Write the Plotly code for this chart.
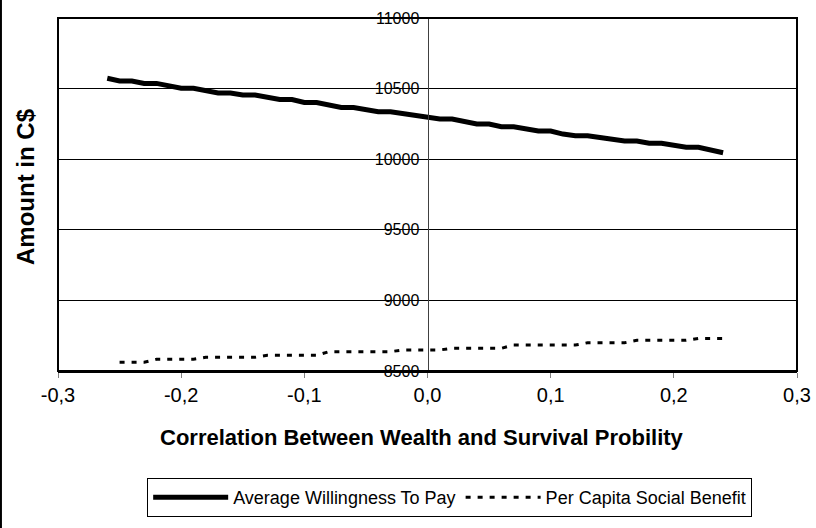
import plotly.graph_objects as go

# ---- data ----
x_wtp = [-0.26, -0.25, -0.24, -0.23, -0.22, -0.21, -0.20, -0.19, -0.18, -0.17,
         -0.16, -0.15, -0.14, -0.13, -0.12, -0.11, -0.10, -0.09, -0.08, -0.07,
         -0.06, -0.05, -0.04, -0.03, -0.02, -0.01, 0.00, 0.01, 0.02, 0.03,
         0.04, 0.05, 0.06, 0.07, 0.08, 0.09, 0.10, 0.11, 0.12, 0.13,
         0.14, 0.15, 0.16, 0.17, 0.18, 0.19, 0.20, 0.21, 0.22, 0.23, 0.24]
wtp = [10573, 10554, 10554, 10537, 10537, 10518, 10502, 10502, 10483, 10469,
       10469, 10455, 10455, 10437, 10423, 10423, 10402, 10402, 10384, 10366,
       10366, 10348, 10336, 10336, 10325, 10309, 10297, 10285, 10285, 10267,
       10249, 10249, 10230, 10230, 10214, 10200, 10200, 10178, 10166, 10166,
       10154, 10139, 10129, 10129, 10113, 10113, 10097, 10084, 10084, 10065, 10046]

x_sb = [-0.25, -0.24, -0.23, -0.22, -0.21, -0.20, -0.19, -0.18, -0.17, -0.16,
        -0.15, -0.14, -0.13, -0.12, -0.11, -0.10, -0.09, -0.08, -0.07, -0.06,
        -0.05, -0.04, -0.03, -0.02, -0.01, 0.00, 0.01, 0.02, 0.03, 0.04,
        0.05, 0.06, 0.07, 0.08, 0.09, 0.10, 0.11, 0.12, 0.13, 0.14,
        0.15, 0.16, 0.17, 0.18, 0.19, 0.20, 0.21, 0.22, 0.23, 0.24]
social_benefit = [8562, 8562, 8562, 8583, 8583, 8583, 8583, 8597, 8597, 8597,
                  8597, 8597, 8611, 8611, 8611, 8611, 8611, 8637, 8637, 8637,
                  8637, 8637, 8637, 8649, 8649, 8649, 8649, 8661, 8661, 8661,
                  8661, 8661, 8684, 8684, 8684, 8684, 8684, 8684, 8700, 8700,
                  8700, 8700, 8717, 8717, 8717, 8717, 8717, 8731, 8731, 8731]

x_tick_vals = [-0.3, -0.2, -0.1, 0.0, 0.1, 0.2, 0.3]
x_tick_labels = ["-0,3", "-0,2", "-0,1", "0,0", "0,1", "0,2", "0,3"]
y_tick_vals = [8500, 9000, 9500, 10000, 10500, 11000]
y_tick_labels = ["8500", "9000", "9500", "10000", "10500", "11000"]

series_names = ["Average Willingness To Pay", "Per Capita Social Benefit"]
x_title = "Correlation Between Wealth and Survival Probility"
y_title = "Amount in C$"

FONT = "Arial, 'Liberation Sans', sans-serif"

fig = go.Figure()
fig.add_trace(go.Scatter(x=x_wtp, y=wtp, mode="lines", name=series_names[0],
                         line=dict(color="black", width=5)))
fig.add_trace(go.Scatter(x=x_sb, y=social_benefit, mode="lines", name=series_names[1],
                         line=dict(color="black", width=3, dash="5px,7px")))

fig.update_layout(
    width=816, height=528,
    margin=dict(l=58, r=19, t=18, b=157, autoexpand=False),
    paper_bgcolor="white", plot_bgcolor="white",
    font=dict(family=FONT, color="black"),
    showlegend=True,
    legend=dict(orientation="h", x=0.53, xanchor="center", y=-0.303, yanchor="top",
                bordercolor="black", borderwidth=1, bgcolor="white",
                font=dict(size=18, family=FONT), itemwidth=75,
                traceorder="normal"),
    xaxis=dict(range=[-0.3, 0.3], tickvals=x_tick_vals, ticktext=x_tick_labels,
               showgrid=False, zeroline=False, showline=True, linecolor="black",
               linewidth=2, ticks="outside", ticklen=5, tickcolor="#808080",
               tickfont=dict(size=20, family=FONT), fixedrange=True),
    yaxis=dict(range=[8500, 11000], tickvals=y_tick_vals, ticktext=y_tick_labels,
               anchor="free", position=0.5, showgrid=True, gridcolor="black",
               gridwidth=1, zeroline=False, showline=True, linecolor="#404040",
               linewidth=1, ticks="outside", ticklen=5, tickcolor="black",
               tickfont=dict(size=16, family=FONT), fixedrange=True),
    shapes=[
        dict(type="rect", xref="paper", yref="paper", x0=0, x1=1, y0=0, y1=1,
             line=dict(color="black", width=2), layer="above"),
        dict(type="line", xref="paper", yref="paper", x0=-0.0772, x1=-0.0772,
             y0=-0.45, y1=1.06, line=dict(color="black", width=2)),
    ],
    annotations=[
        dict(text=x_title, xref="paper", yref="paper", x=0.4926, y=-0.187,
             xanchor="center", yanchor="middle", showarrow=False,
             font=dict(size=22, family=FONT, weight="bold")),
        dict(text=y_title, xref="paper", yref="paper", x=-0.0447, y=0.524,
             xanchor="center", yanchor="middle", showarrow=False, textangle=-90,
             font=dict(size=24, family=FONT, weight="bold")),
    ],
)

fig.write_html("out.html", config={"displayModeBar": False},
               post_script="document.body.style.margin='0px';document.body.style.overflow='hidden';")
